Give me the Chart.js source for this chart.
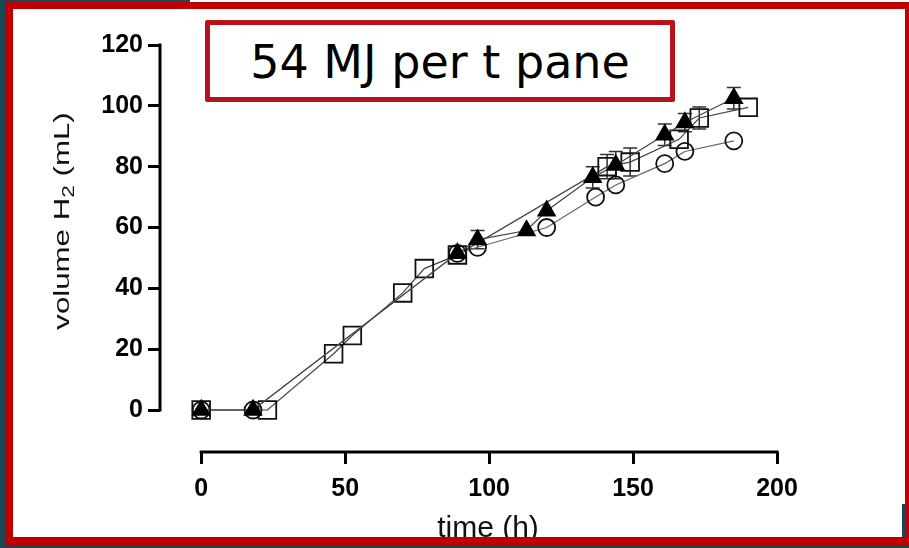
<!DOCTYPE html>
<html>
<head>
<meta charset="utf-8">
<script src="https://cdn.jsdelivr.net/npm/chart.js@4.4.1/dist/chart.umd.min.js"></script>
<style>
  html, body { margin: 0; padding: 0; width: 909px; height: 548px; overflow: hidden; background: #1b4856; }
  #topStrip { position: absolute; left: 190px; top: 0; width: 719px; height: 3px; background: #fff; }
  #page { position: absolute; left: 5px; top: 2px; width: 904px; height: 544px; background: #fff; }
  #chart { position: absolute; left: 0; top: 0; }
  #frame { position: absolute; left: 5px; top: 2px; width: 904px; height: 544px; box-sizing: border-box;
           border-style: solid; border-color: #c00000; border-width: 7px 4px 9px 8px; }
  #notch { position: absolute; left: 902px; top: 504px; width: 3px; height: 33px; background: #1b4856; }
  #label { position: absolute; left: 205px; top: 20px; width: 470px; height: 82px; box-sizing: border-box;
           border: 5px solid #b5141a; background: #fff; border-radius: 2px;
           font-family: "DejaVu Sans", sans-serif; font-weight: 400; font-size: 46px; color: #000;
           display: flex; align-items: center; justify-content: center; padding-top: 2px; }
</style>
</head>
<body>
<div id="topStrip"></div>
<div id="page"></div>
<canvas id="chart" width="909" height="548"></canvas>
<div id="frame"></div>
<div id="notch"></div>
<div id="label">54 MJ per t pane</div>
<script>
// filled triangles
const triTime = [0, 18, 89, 96, 113, 120, 136, 144, 161, 168, 185];
const triVol  = [0, 0, 51.5, 56, 59, 65.5, 76.5, 80.5, 90.5, 94.5, 102.5];
const triErr  = [0, 0, 0, 3, 0, 0, 3.5, 4.5, 3.5, 3, 3.5];

// open circles
const circTime = [0, 18, 89, 96, 120, 137, 144, 161, 168, 185];
const circVol  = [0, 0, 51.5, 53.5, 60, 70, 74, 81, 85, 88.5];

// open squares
const sqTime = [0, 23, 46, 52.5, 70, 77.5, 89, 141, 149, 166, 173, 190];
const sqVol  = [0, 0, 18.5, 24.5, 38.5, 46.5, 51, 80, 81.5, 89, 96, 99.5];
const sqErr  = [0, 0, 0, 0, 0, 0, 0, 4, 4.6, 0, 3.6, 0];

const xTicks = [0, 50, 100, 150, 200];
const yTicks = [0, 20, 40, 60, 80, 100, 120];

function toPoints(xs, ys) {
    return xs.map((x, i) => ({ x: x, y: ys[i] }));
}

const errorBars = {
    id: 'errorBars',
    beforeDatasetsDraw(chart) {
        const { ctx, scales: { x, y } } = chart;
        ctx.save();
        ctx.strokeStyle = '#333';
        ctx.lineWidth = 1.5;
        [[triTime, triVol, triErr], [sqTime, sqVol, sqErr]].forEach(([ts, vs, es]) => {
            ts.forEach((t, i) => {
                if (!es[i]) return;
                const px = x.getPixelForValue(t);
                const top = y.getPixelForValue(vs[i] + es[i]);
                const bot = y.getPixelForValue(vs[i] - es[i]);
                ctx.beginPath();
                ctx.moveTo(px, top); ctx.lineTo(px, bot);
                ctx.moveTo(px - 7, top); ctx.lineTo(px + 7, top);
                ctx.moveTo(px - 7, bot); ctx.lineTo(px + 7, bot);
                ctx.stroke();
            });
        });
        ctx.restore();
    }
};

// prism style detached axes + titles
const axesAndTitles = {
    id: 'axesAndTitles',
    afterDraw(chart) {
        const { ctx, chartArea, scales: { x, y } } = chart;
        ctx.save();
        ctx.strokeStyle = '#000';
        ctx.lineWidth = 3;
        ctx.beginPath();
        ctx.moveTo(chartArea.left, y.getPixelForValue(yTicks[0]) + 1.5);
        ctx.lineTo(chartArea.left, y.getPixelForValue(yTicks[yTicks.length - 1]) - 1.5);
        ctx.moveTo(x.getPixelForValue(xTicks[0]) - 1.5, chartArea.bottom);
        ctx.lineTo(x.getPixelForValue(xTicks[xTicks.length - 1]) + 1.5, chartArea.bottom);
        ctx.stroke();

        ctx.fillStyle = '#111';
        ctx.font = '30px "Liberation Sans", Arial, sans-serif';
        ctx.textAlign = 'center';
        ctx.textBaseline = 'alphabetic';
        ctx.fillText('time (h)', 488, 537);

        // y title, stretched along its length like the source figure
        ctx.translate(69, 221);
        ctx.rotate(-Math.PI / 2);
        ctx.scale(1.42, 1);
        const big = '22px "Liberation Sans", Arial, sans-serif';
        const small = '16px "Liberation Sans", Arial, sans-serif';
        const parts = [['volume H', big, 0], ['2', small, 5], [' (mL)', big, 0]];
        let total = 0;
        parts.forEach(p => { ctx.font = p[1]; total += ctx.measureText(p[0]).width; });
        let pos = -total / 2;
        ctx.textAlign = 'left';
        parts.forEach(p => {
            ctx.font = p[1];
            ctx.fillText(p[0], pos, p[2]);
            pos += ctx.measureText(p[0]).width;
        });
        ctx.restore();
    }
};

const lineStyle = { borderWidth: 1.2, tension: 0, pointBorderWidth: 1.8, pointHoverRadius: 0 };

new Chart(document.getElementById('chart'), {
    type: 'line',
    data: {
        datasets: [
            Object.assign({
                label: 'triangles',
                data: toPoints(triTime, triVol),
                borderColor: '#444',
                pointStyle: 'triangle',
                pointRadius: 9.5,
                pointBackgroundColor: '#000',
                pointBorderColor: '#000'
            }, lineStyle),
            Object.assign({
                label: 'circles',
                data: toPoints(circTime, circVol),
                borderColor: '#666',
                pointStyle: 'circle',
                pointRadius: 8.5,
                pointBackgroundColor: 'rgba(0,0,0,0)',
                pointBorderColor: '#111'
            }, lineStyle),
            Object.assign({
                label: 'squares',
                data: toPoints(sqTime, sqVol),
                borderColor: '#444',
                pointStyle: 'rect',
                pointRadius: 12.5,
                pointBackgroundColor: 'rgba(0,0,0,0)',
                pointBorderColor: '#111'
            }, lineStyle)
        ]
    },
    options: {
        responsive: false,
        animation: false,
        layout: { padding: { left: 45, top: 45, right: 132, bottom: 0 } },
        plugins: { legend: { display: false }, tooltip: { enabled: false } },
        scales: {
            x: {
                type: 'linear',
                min: -14.3,
                max: 200,
                afterBuildTicks: s => { s.ticks = xTicks.map(v => ({ value: v })); },
                afterFit: s => { s.height = 96; },
                grid: { drawOnChartArea: false, drawTicks: true, tickLength: 12, tickWidth: 3, tickColor: '#000' },
                border: { display: false },
                ticks: { padding: 10, color: '#000', maxRotation: 0, font: { family: '"Liberation Sans", Arial', size: 25, weight: 'bold' } }
            },
            y: {
                type: 'linear',
                min: -13.8,
                max: 120,
                afterBuildTicks: s => { s.ticks = yTicks.map(v => ({ value: v })); },
                afterFit: s => { s.width = 115; },
                grid: { drawOnChartArea: false, drawTicks: true, tickLength: 12, tickWidth: 3, tickColor: '#000' },
                border: { display: false },
                ticks: { padding: 5, color: '#000', font: { family: '"Liberation Sans", Arial', size: 25, weight: 'bold' } }
            }
        }
    },
    plugins: [errorBars, axesAndTitles]
});
</script>
</body>
</html>
